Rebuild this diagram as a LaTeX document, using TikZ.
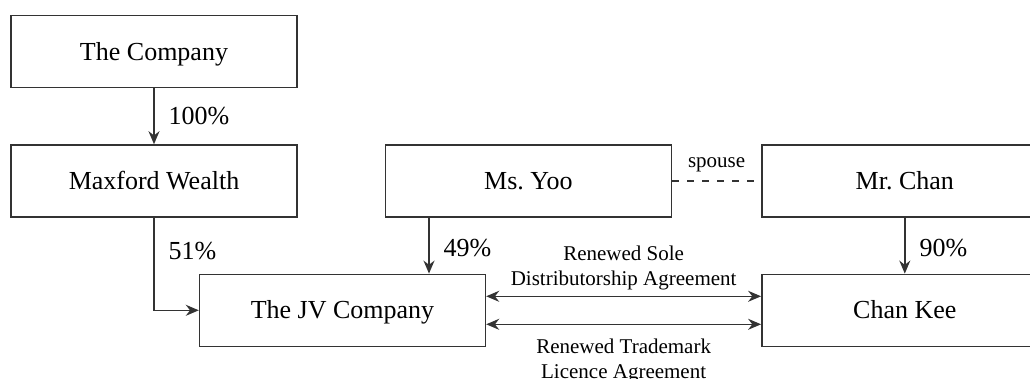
\documentclass[tikz,border=0pt]{standalone}
\usepackage{fontspec}
\setmainfont{Liberation Serif}
\usetikzlibrary{positioning,arrows.meta}

\begin{document}
\begin{tikzpicture}[node distance=28pt,
      every node/.style={inner sep=2pt},
      entity/.style={draw=black!80,line width=0.7pt,minimum width=143pt,minimum height=36pt,inner sep=0pt,text height=8.6pt,text depth=0pt,font=\fontsize{13}{15}\selectfont},
      own/.style={draw=black!80,line width=0.7pt,-{Stealth[length=6.5pt,width=5.5pt]}},
      twoway/.style={draw=black!80,line width=0.7pt,{Stealth[length=6.5pt,width=5.5pt]}-{Stealth[length=6.5pt,width=5.5pt]}},
      share/.style={font=\fontsize{13}{15}\selectfont,right=5pt},
      deal/.style={font=\fontsize{10.5}{12.5}\selectfont,align=center}]
  \useasboundingbox (0,0) rectangle (515pt,-189.5pt);
  \node[entity] (company) at (77pt,-25.75pt) {The Company};
  \node[entity,below=of company] (maxford) {Maxford Wealth};
  \node[entity,right=43.5pt of maxford] (yoo) {Ms.\ Yoo};
  \node[entity,right=44.5pt of yoo] (chan) {Mr.\ Chan};
  \node[entity,below=of maxford,xshift=94.25pt] (jv) {The JV Company};
  \node[entity,below=of chan] (chankee) {Chan Kee};
  \draw[own] (company) -- node[share] {100\%} (maxford);
  \draw[own] (maxford.south) |- node[share,pos=0.18] {51\%} (jv.west);
  \draw[own] ([xshift=43.25pt]jv.north |- yoo.south) -- node[share,pos=0.55] {49\%} ([xshift=43.25pt]jv.north);
  \draw[own] (chan) -- node[share,pos=0.55] {90\%} (chankee);
  \draw[twoway] ([yshift=7pt]jv.east) -- node[deal,above=1pt] {Renewed Sole\\Distributorship Agreement} ([yshift=7pt]chankee.west);
  \draw[twoway] ([yshift=-7pt]jv.east) -- node[deal,below=5pt] {Renewed Trademark\\Licence Agreement} ([yshift=-7pt]chankee.west);
  \draw[draw=black!80,line width=0.7pt,dash pattern=on 3.5pt off 4pt] (yoo) -- node[deal,above=2pt] {spouse} (chan);
\end{tikzpicture}
\end{document}
